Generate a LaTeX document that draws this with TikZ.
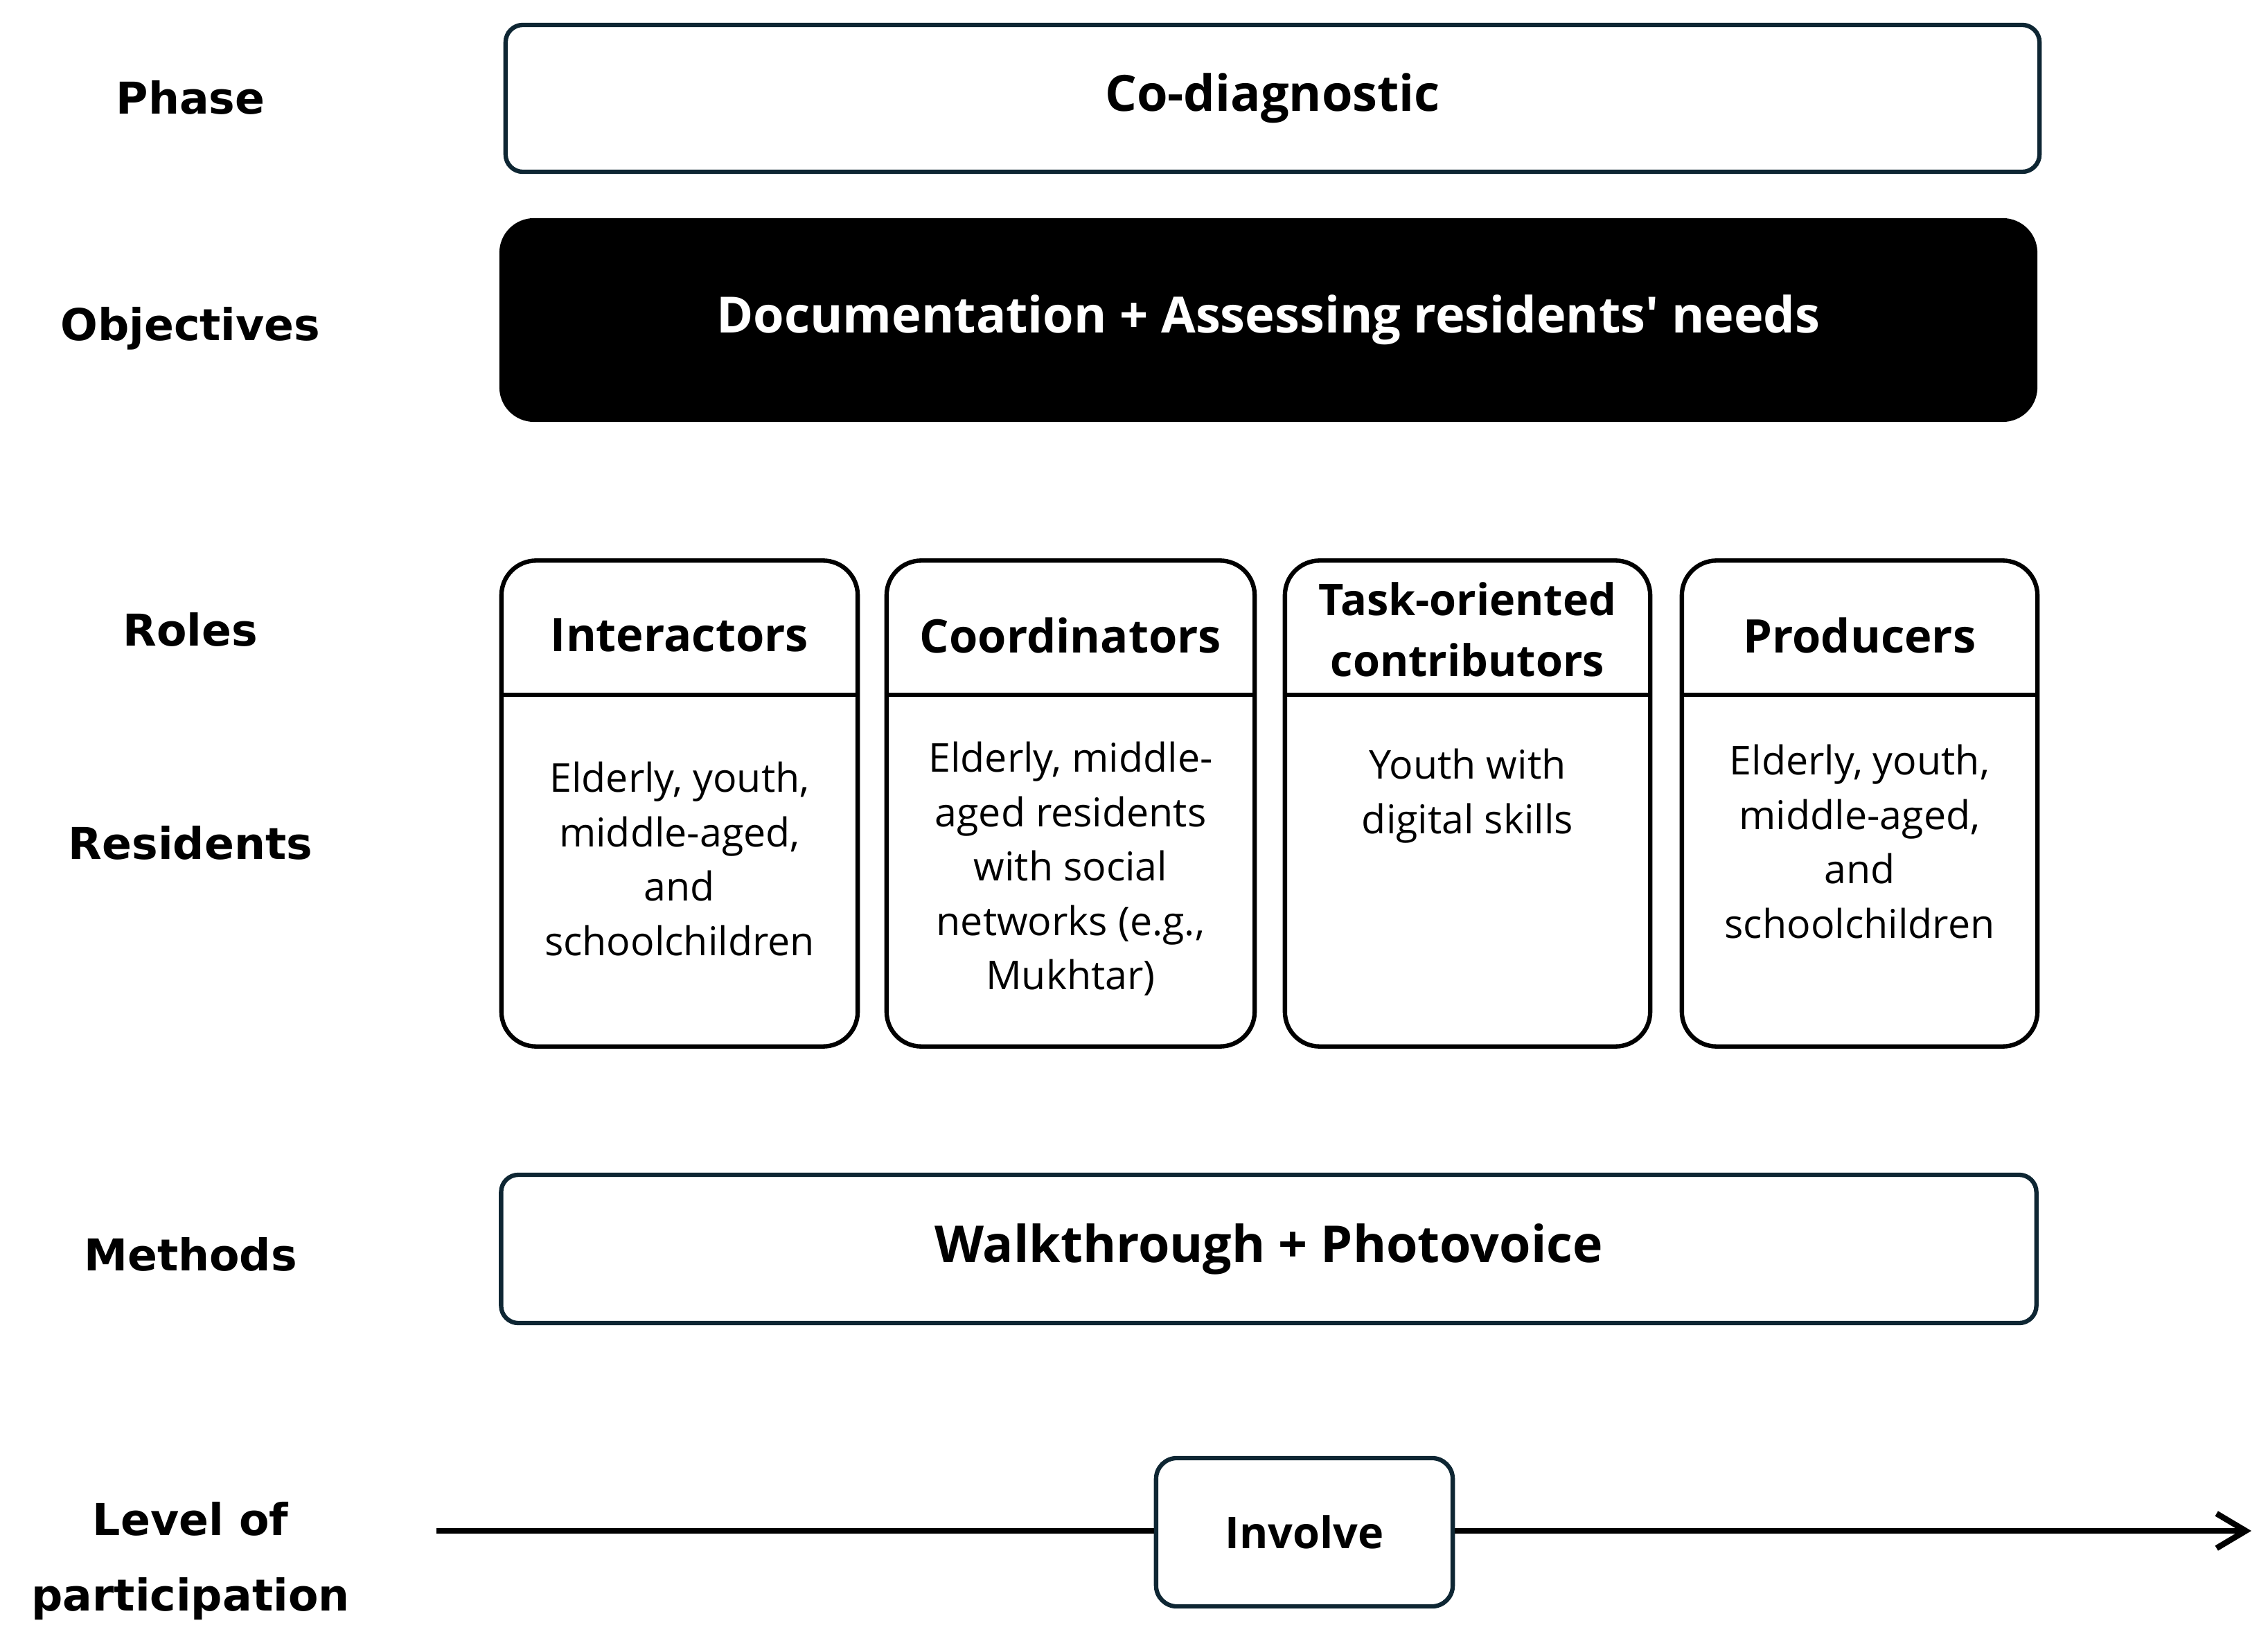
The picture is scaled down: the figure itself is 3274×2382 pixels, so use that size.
\documentclass[tikz,border=0pt]{standalone}
\usepackage{fontspec}
\setmainfont{Open Sans}
\newfontfamily\labfont{DejaVu Sans}
\usetikzlibrary{arrows.meta}
\definecolor{edge}{HTML}{0E2633}
\newcommand{\straightquote}{\XeTeXglyph\the\XeTeXcharglyph"27\relax}
\begin{document}
\begin{tikzpicture}[x=0.01cm,y=-0.01cm,
  lab/.style={font=\labfont\bfseries\fontsize{18}{31}\selectfont,align=center},
  bigbox/.style={draw=edge,line width=1.8pt,rounded corners=0.25cm,inner sep=0pt},
  rolebox/.style={draw=black,line width=1.8pt,rounded corners=0.5cm,inner sep=0pt,minimum height=7.01cm},
  head/.style={font=\bfseries\fontsize{19}{26}\selectfont,align=center},
  body/.style={font=\fontsize{16.3}{22.3}\selectfont,align=center,anchor=north},
]
\useasboundingbox (0,0) rectangle (3274,2382);
% left labels
\node[lab] (lphase) at (275,141) {Phase};
\node[lab] (lobj) at (275,474) {Objectives};
\node[lab] (lroles) at (275,909) {Roles};
\node[lab] (lres) at (275,1217) {Residents};
\node[lab] (lmeth) at (275,1811) {Methods};
\node[lab] (llev) at (275,2254) {Level of\\participation};
% phase
\node[bigbox,minimum width=22.13cm,minimum height=2.12cm,font=\bfseries\fontsize{20.5}{26}\selectfont] (phase) at (1837,142) {Co-diagnostic};
% objectives
\node[fill=black,rounded corners=0.5cm,inner sep=0pt,minimum width=22.19cm,minimum height=2.94cm,text=white,font=\bfseries\fontsize{20.5}{26}\selectfont] (obj) at (1831,462) {Documentation + Assessing residents\straightquote{} needs};
% roles
\node[rolebox,minimum width=5.14cm] (r1) at (981,1160) {};
\node[rolebox,minimum width=5.31cm] (r2) at (1545.5,1160) {};
\node[rolebox,minimum width=5.27cm] (r3) at (2118.5,1160) {};
\node[rolebox,minimum width=5.13cm] (r4) at (2684.5,1160) {};
\coordinate (sep) at (0,1003);
\foreach \r in {r1,r2,r3,r4}{
  \draw[line width=1.8pt] (\r.west |- sep) -- (\r.east |- sep);
}
\node[head] (h1) at (981,917) {Interactors};
\node[head] (h2) at (1545.5,917) {Coordinators};
\node[head,font=\bfseries\fontsize{17.9}{25}\selectfont] (h3) at (2118.5,909) {Task-oriented\\contributors};
\node[head] (h4) at (2684.5,917) {Producers};
\node[body] (b1) at (981,1088) {Elderly, youth,\\middle-aged,\\and\\schoolchildren};
\node[body] (b2) at (1545.5,1059) {Elderly, middle-\\aged residents\\with social\\networks (e.g.,\\Mukhtar)};
\node[body] (b3) at (2118.5,1069) {Youth with\\digital skills};
\node[body] (b4) at (2684.5,1063) {Elderly, youth,\\middle-aged,\\and\\schoolchildren};
% methods
\node[bigbox,minimum width=22.15cm,minimum height=2.14cm,font=\bfseries\fontsize{20.9}{26}\selectfont] (meth) at (1831.5,1803) {Walkthrough + Photovoice};
% level of participation
\node[bigbox,rounded corners=0.3cm,minimum width=4.28cm,minimum height=2.14cm,font=\bfseries\fontsize{17.9}{22}\selectfont] (inv) at (1883,2212) {Involve};
\coordinate (astart) at (630,2210);
\coordinate (aend) at (3250,2210);
\draw[line width=2.4pt] (astart) -- (inv.west |- astart);
\draw[line width=2.4pt,-{Straight Barb[length=0.42cm,width=0.5cm,line width=2.4pt]}] (inv.east |- aend) -- (aend);
\end{tikzpicture}
\end{document}
